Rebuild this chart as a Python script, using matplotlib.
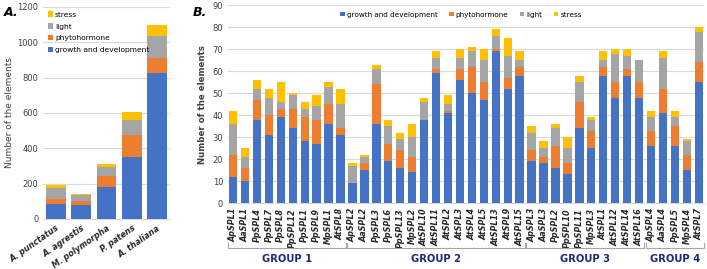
import matplotlib.pyplot as plt
import numpy as np

# colours (office palette)
c_growth = '#4472C4'
c_phyto = '#ED7D31'
c_light = '#A5A5A5'
c_stress = '#FFC000'

# panel A - totals per species
species = ['A. punctatus', 'A. agrestis', 'M. polymorpha', 'P. patens', 'A. thaliana']
a_growth = [83, 78, 182, 351, 826]
a_phyto = [31, 26, 61, 123, 84]
a_light = [59, 31, 51, 85, 123]
a_stress = [22, 7, 15, 44, 63]

# panel B - per gene
genes = ['ApSPL1', 'AaSPL1', 'PpSPL4', 'PpSPL7', 'PpSPL8', 'PpSPL12', 'PpSPL1', 'PpSPL9', 'MpSPL1', 'AtSPL8',
         'ApSPL2', 'AaSPL2', 'PpSPL3', 'PpSPL6', 'PpSPL13', 'MpSPL2', 'AtSPL10', 'AtSPL11', 'AtSPL2', 'AtSPL3',
         'AtSPL4', 'AtSPL5', 'AtSPL13', 'AtSPL9', 'AtSPL15',
         'ApSPL3', 'AaSPL3', 'PpSPL2', 'PpSPL10', 'PpSPL11', 'MpSPL3', 'AtSPL1', 'AtSPL12', 'AtSPL14', 'AtSPL16',
         'ApSPL4', 'AaSPL4', 'PpSPL5', 'MpSPL4', 'AtSPL7']
b_growth = [12, 10, 38, 31, 39, 34, 28, 27, 36, 31,
            9, 15, 36, 19, 16, 14, 38, 59, 41, 56, 50, 47, 69, 52, 58,
            19, 18, 16, 13, 34, 25, 58, 48, 58, 48,
            26, 41, 26, 15, 55]
b_phyto = [10, 6, 9, 9, 4, 9, 11, 11, 9, 3,
           0, 3, 18, 8, 8, 7, 0, 2, 1, 5, 12, 8, 1, 5, 4,
           5, 3, 10, 5, 12, 8, 4, 7, 3, 7,
           7, 11, 9, 7, 9]
b_light = [14, 5, 5, 8, 3, 6, 4, 6, 8, 11,
           8, 3, 7, 8, 5, 9, 8, 5, 3, 5, 7, 10, 6, 10, 3,
           8, 4, 8, 7, 9, 5, 3, 13, 6, 10,
           6, 14, 4, 6, 14]
b_stress = [6, 4, 4, 4, 9, 1, 3, 5, 2, 7,
            1, 1, 2, 3, 3, 6, 2, 3, 4, 4, 2, 5, 3, 8, 4,
            3, 3, 2, 5, 3, 1, 4, 2, 3, 0,
            3, 3, 3, 1, 2]
groups = ['GROUP 1', 'GROUP 2', 'GROUP 3', 'GROUP 4']
group_sizes = [10, 15, 10, 5]

plt.rcParams['font.family'] = 'DejaVu Sans'
fig = plt.figure(figsize=(7.07, 2.69), dpi=100)


def stack(ax, x, parts, width):
    bottom = np.zeros(len(x))
    labels = ['growth and development', 'phytohormone', 'light', 'stress']
    cols = [c_growth, c_phyto, c_light, c_stress]
    for vals, lab, col in zip(parts, labels, cols):
        ax.bar(x, vals, width, bottom=bottom, color=col, label=lab, zorder=3)
        bottom += np.array(vals)


def style(ax):
    for s in ['top', 'right', 'left']:
        ax.spines[s].set_visible(False)
    ax.spines['bottom'].set_color('#d9d9d9')
    ax.yaxis.grid(True, color='#d9d9d9', linewidth=0.8, zorder=0)
    ax.tick_params(axis='both', length=0, labelsize=6, colors='#404040')


# ---- panel A
axA = fig.add_axes([0.061, 0.186, 0.179, 0.788])
xa = np.arange(len(species))
stack(axA, xa, [a_growth, a_phyto, a_light, a_stress], 0.78)
style(axA)
axA.set_xlim(-0.5, len(species) - 0.5)
axA.set_ylim(0, 1200)
axA.set_yticks(range(0, 1201, 200))
axA.set_xticks(xa)
axA.set_xticklabels(species, rotation=35, ha='right', rotation_mode='anchor',
                    fontweight='bold', fontstyle='italic', fontsize=5.8, color='#262626')
axA.set_ylabel('Number of the elements', fontsize=6.5, color='#404040', labelpad=2)
h, l = axA.get_legend_handles_labels()
axA.legend(h[::-1], l[::-1], loc='upper left', bbox_to_anchor=(0.0, 1.0), frameon=False,
           fontsize=5.4, handlelength=0.7, handleheight=0.7, handletextpad=0.3,
           labelspacing=0.75, borderaxespad=0.2)
fig.text(0.005, 0.94, 'A.', fontsize=9, fontweight='bold', fontstyle='italic')

# ---- panel B
axB = fig.add_axes([0.3225, 0.245, 0.673, 0.736])
xb = np.arange(len(genes))
stack(axB, xb, [b_growth, b_phyto, b_light, b_stress], 0.7)
style(axB)
axB.set_xlim(-0.42, len(genes) - 0.58)
axB.set_ylim(0, 90)
axB.set_yticks(range(0, 91, 10))
axB.set_xticks(xb)
axB.set_xticklabels(genes, rotation=90, fontweight='bold', fontstyle='italic', fontsize=5.8,
                    color='#262626')
axB.set_ylabel('Number of the elements', fontsize=6.2, fontweight='bold', color='#404040',
               labelpad=4)
axB.legend(loc='upper center', bbox_to_anchor=(0.49, 0.985), ncol=4, frameon=False,
           fontsize=5.2, handlelength=0.6, handleheight=0.6, handletextpad=0.3,
           columnspacing=1.6, borderaxespad=0.1)
fig.text(0.272, 0.94, 'B.', fontsize=9, fontweight='bold', fontstyle='italic')

# group brackets below the tick labels
trans = axB.get_xaxis_transform()
start = 0
for name, n in zip(groups, group_sizes):
    x0 = start - 0.45
    x1 = start + n - 1 + 0.45
    yb = -0.225
    axB.plot([x0, x0, x1, x1], [yb + 0.025, yb, yb, yb + 0.025], color='#a6a6a6',
             linewidth=0.8, transform=trans, clip_on=False)
    axB.text((x0 + x1) / 2, -0.255, name, transform=trans, ha='center', va='top',
             fontsize=7.2, fontweight='bold', color='#1f2a7a')
    start += n

fig.savefig('out.png', dpi=100)
